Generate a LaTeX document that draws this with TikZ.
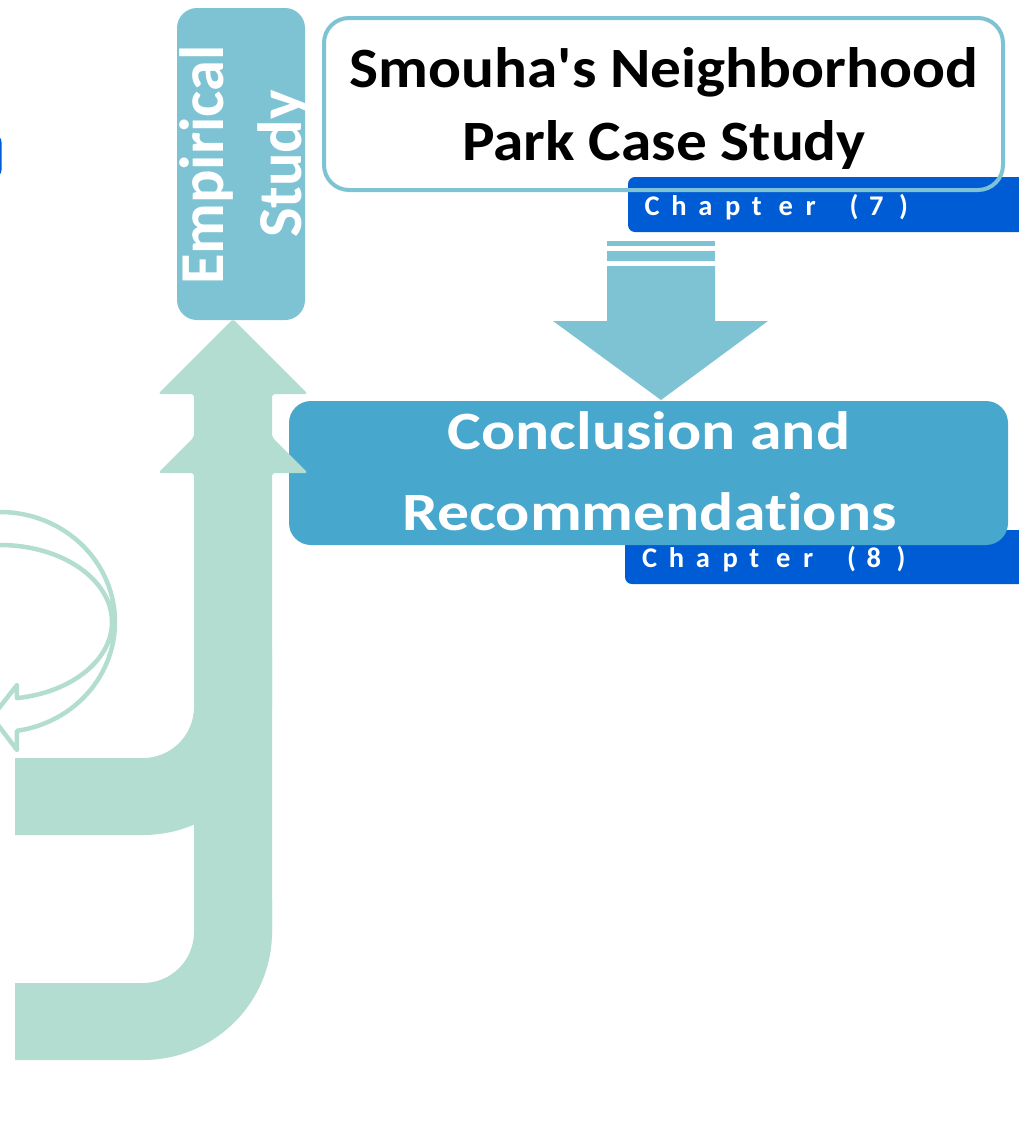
\documentclass[tikz,border=0pt]{standalone}
\usepackage{fontspec}
\usepackage{graphicx}
\setmainfont{Carlito}[Ligatures={TeXOff,NoCommon}]

\definecolor{paleblue}{HTML}{7EC3D3}
\definecolor{midblue}{HTML}{47A7CD}
\definecolor{chapblue}{HTML}{005CD4}
\definecolor{mint}{HTML}{B2DDD0}

% one letter of a widely tracked chapter tag, in a box of the given pitch
\newcommand\chapglyph[2]{\makebox[#1pt][l]{#2}}
\newcommand\chaptag[1]{%
  \chapglyph{26.8}{C}\chapglyph{26.8}{h}\chapglyph{26.8}{a}\chapglyph{26.8}{p}%
  \chapglyph{26.8}{t}\chapglyph{26.8}{e}\chapglyph{44}{r}\chapglyph{19.5}{(}%
  \chapglyph{30}{#1})}

\tikzset{
  chapbox/.style={fill=chapblue, rounded corners=7pt, inner sep=0pt},
  stagebox/.style={fill=paleblue, rounded corners=20pt, inner sep=0pt},
  casebox/.style={draw=paleblue, line width=4pt, rounded corners=25pt, inner sep=0pt},
  finalbox/.style={fill=midblue, rounded corners=22pt, inner sep=0pt},
  chaptext/.style={text=white, inner sep=0pt, anchor=base west,
    font=\bfseries\fontsize{28.5}{30}\selectfont},
  bigtext/.style={inner sep=0pt, anchor=base},
  flow/.style={fill=mint},
  loop/.style={draw=mint, line width=4.5pt, line join=round}
}

\begin{document}
\begin{tikzpicture}[x=1pt,y=-1pt]
\useasboundingbox (0,0) rectangle (1019,1138);
\begin{scope}
\clip (0,0) rectangle (1019,1138);

% chapter tags (behind the stage boxes)
\node[chapbox, minimum width=402pt, minimum height=55pt] (tag7) at (829,204.5) {};
\node[chapbox, minimum width=405pt, minimum height=54pt] (tag8) at (827.5,557) {};
\node[chapbox, minimum width=22pt, minimum height=42pt] (tagL) at (-9.5,156) {};

% case study box
\node[casebox, minimum width=679pt, minimum height=172pt] (case) at (663.5,104) {};

% empirical study box
\node[stagebox, minimum width=128pt, minimum height=312pt] (emp) at (241,164) {};

% block arrow from the case study down to the conclusion
\fill[paleblue] (607,241) rectangle (715,246);
\fill[paleblue] (607,251) rectangle (715,261);
\fill[paleblue] (607,266) -- (715,266) -- (715,321) -- (768,321) -- (661,400)
  -- (553,321) -- (607,321) -- cycle;

% conclusion box
\node[finalbox, minimum width=719pt, minimum height=144pt] (concl) at (648.5,473) {};

% rising flow: shaft with two arrow heads
\fill[flow, rounded corners=3pt] (233,319) -- (308,394) -- (272,394) -- (272,437)
  -- (308,473) -- (272,473) -- (272,940) -- (194,940) -- (194,473) -- (158,473)
  -- (194,437) -- (194,394) -- (158,394) -- cycle;
% middle branch
\fill[flow] (15,758) -- (143,758) .. controls (171.2,758) and (194,735.2) .. (194,707)
  -- (194,650) -- (272,650) -- (272,707) .. controls (272,777.7) and (214.2,835) .. (143,835)
  -- (15,835) -- cycle;
% bottom branch
\fill[flow] (15,983) -- (143,983) .. controls (171.2,983) and (194,960.2) .. (194,932)
  -- (194,900) -- (272,900) -- (272,932) .. controls (272,1002.7) and (214.2,1060) .. (143,1060)
  -- (15,1060) -- cycle;

% curved loop arrow
\draw[loop] plot[domain=-95:81.5, samples=90] ({115*cos(\x)},{622+110*sin(\x)})
  -- (17,750) -- (-8,717) -- (17,685)
  -- plot[domain=81.3:-95, samples=90] ({112*cos(\x)},{622+77*sin(\x)});

% texts
\node[bigtext, font=\bfseries\fontsize{57}{60}\selectfont] (caseA) at (664,87)
  {\scalebox{1.076}[1]{Smouha's Neighborhood}};
\node[bigtext, font=\bfseries\fontsize{57}{60}\selectfont] (caseB) at (664,160)
  {\scalebox{1.076}[1]{Park Case Study}};
\node[chaptext] (ch7) at (644.5,215) {\chaptag{7}};

\node[bigtext, rotate=90, text=white, font=\bfseries\fontsize{62.5}{64}\selectfont] (empA) at (223,165) {Empirical};
\node[bigtext, rotate=90, text=white, font=\bfseries\fontsize{62.5}{64}\selectfont] (empB) at (301,164) {Study};

\node[bigtext, text=white, font=\bfseries\fontsize{54}{58}\selectfont] (conA) at (649,449)
  {\scalebox{1.18}[1]{Conclusion and}};
\node[bigtext, text=white, font=\bfseries\fontsize{54}{58}\selectfont] (conB) at (649.5,530)
  {\scalebox{1.18}[1]{Recommendations}};
\node[chaptext] (ch8) at (642,567) {\chaptag{8}};
\end{scope}
\end{tikzpicture}
\end{document}
